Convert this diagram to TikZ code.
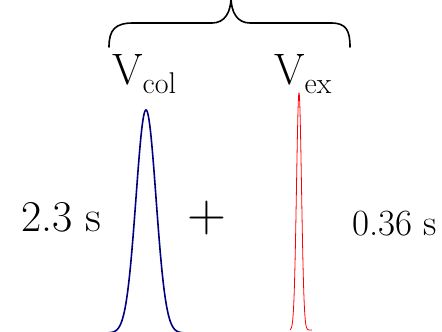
\documentclass[tikz,border=0pt]{standalone}
\definecolor{peakblue}{RGB}{0,0,128}
\begin{document}
\begin{tikzpicture}[x=1pt,y=-1pt,
  lbl/.style={inner sep=0pt, anchor=base west, font=\fontsize{44}{44}\selectfont},
  brace/.style={line width=1.6pt, line cap=round},
  bluepeak/.style={draw=peakblue, line width=1.6pt},
  redpeak/.style={draw=red, line width=0.8pt}]
\useasboundingbox (0,0) rectangle (442,332);
% brace
\draw[brace] (109,47) .. controls (109,30) and (115,23) .. (133,23) -- (212,23)
  .. controls (225,23) and (231,12) .. (231,-3);
\draw[brace] (231,-3) .. controls (231,12) and (237,23) .. (250,23) -- (331,23)
  .. controls (346,23) and (350,30) .. (350,47);
% labels
\node[lbl] (vcol) at (112,84) {V\raisebox{-9pt}{\fontsize{30}{30}\selectfont col}};
\node[lbl] (vex) at (274,84) {V\raisebox{-9pt}{\fontsize{30}{30}\selectfont ex}};
\node[lbl] (t1) at (21,231) {2.3 s};
\node[lbl, font=\fontsize{37}{37}\selectfont] (t2) at (352,235) {0.36 s};
\node[inner sep=0pt, font=\fontsize{54}{54}\selectfont] (plus) at (207,218) {+};
% peaks
\draw[bluepeak] plot[domain=106:186, samples=300] (\x, {333-223*exp(-((\x-146)^2)/200)});
\draw[redpeak] plot[domain=290:312, samples=400] (\x, {330-237*exp(-((\x-299)^2)/12.5)});
\end{tikzpicture}
\end{document}
